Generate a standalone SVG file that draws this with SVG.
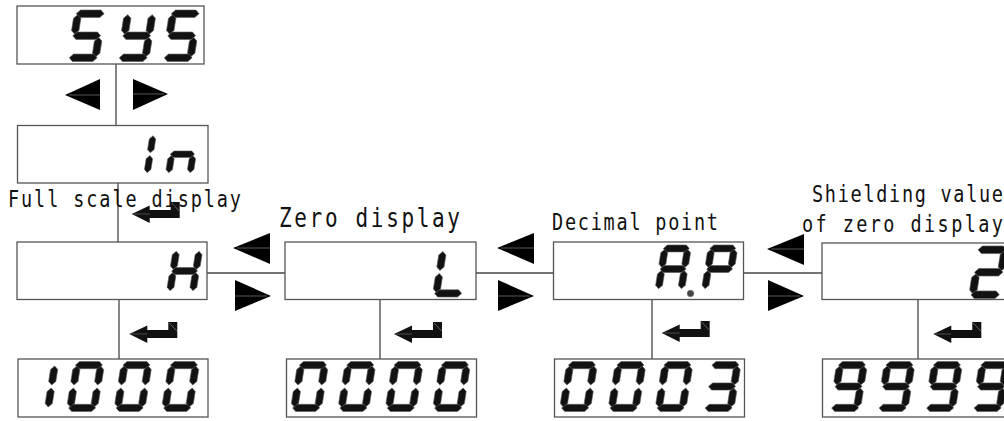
<svg xmlns="http://www.w3.org/2000/svg" width="1004" height="421" viewBox="0 0 1004 421">
<style>
.box{fill:#fff;stroke:#555;stroke-width:1.3}
.ln{stroke:#444;stroke-width:1.3;fill:none}
.dg{fill:#121212;stroke:#5c5c5c;stroke-width:0.6}
.tri{fill:#000}
.trl{stroke:#6e6e6e;stroke-width:0.8}
.ret{fill:#111}
.lbl{font-family:"DejaVu Sans Mono","Liberation Mono",monospace;font-size:18.5px;fill:#111}
</style>
<defs>
<polygon id="sa" points="2,3.6 5.6,0 25.4,0 29,3.6 25.4,7.2 5.6,7.2"/>
<polygon id="sb" points="27.4,4.5 31,8.1 31,19.9 27.4,23.5 23.8,19.9 23.8,8.1"/>
<polygon id="sc" points="27.4,26.5 31,30.1 31,41.9 27.4,45.5 23.8,41.9 23.8,30.1"/>
<polygon id="sd" points="2,46.4 5.6,42.8 25.4,42.8 29,46.4 25.4,50 5.6,50"/>
<polygon id="se" points="3.6,26.5 7.2,30.1 7.2,41.9 3.6,45.5 0,41.9 0,30.1"/>
<polygon id="sf" points="3.6,4.5 7.2,8.1 7.2,19.9 3.6,23.5 0,19.9 0,8.1"/>
<polygon id="sg" points="2,25 5.6,21.4 25.4,21.4 29,25 25.4,28.6 5.6,28.6"/>
<g id="d0"><use href="#sa"/><use href="#sb"/><use href="#sc"/><use href="#sd"/><use href="#se"/><use href="#sf"/></g>
<g id="d1"><use href="#sb"/><use href="#sc"/></g>
<g id="d2"><use href="#sa"/><use href="#sb"/><use href="#sg"/><use href="#se"/><use href="#sd"/></g>
<g id="d3"><use href="#sa"/><use href="#sb"/><use href="#sg"/><use href="#sc"/><use href="#sd"/></g>
<g id="d9"><use href="#sa"/><use href="#sb"/><use href="#sc"/><use href="#sd"/><use href="#sf"/><use href="#sg"/></g>
<g id="dS"><use href="#sa"/><use href="#sf"/><use href="#sg"/><use href="#sc"/><use href="#sd"/></g>
<g id="dY"><use href="#sb"/><use href="#sc"/><use href="#sd"/><use href="#sf"/><use href="#sg"/></g>
<g id="dn"><use href="#sc"/><use href="#se"/><use href="#sg"/></g>
<g id="dH"><use href="#sb"/><use href="#sc"/><use href="#se"/><use href="#sf"/><use href="#sg"/></g>
<g id="dL"><use href="#sd"/><use href="#se"/><use href="#sf"/></g>
<g id="dA"><use href="#sa"/><use href="#sb"/><use href="#sc"/><use href="#se"/><use href="#sf"/><use href="#sg"/></g>
<g id="dP"><use href="#sa"/><use href="#sb"/><use href="#se"/><use href="#sf"/><use href="#sg"/></g>
<g id="ret"><polygon class="ret" points="0,12 18,3.5 18,8 39,8 39,0 48,0 48,16 18,16 18,21"/><line x1="40" y1="1" x2="47.5" y2="9" stroke="#888" stroke-width="0.7"/><line x1="2" y1="12" x2="18" y2="12" stroke="#777" stroke-width="0.6"/></g>
<g id="tl"><polygon class="tri" points="0,15 37,0 37,31"/><line class="trl" x1="4" y1="15" x2="37" y2="15"/></g>
<g id="tr"><polygon class="tri" points="0,0 0,31 36,16"/><line class="trl" x1="0" y1="16" x2="32" y2="16"/></g>
</defs>

<g id="connectors">
<line class="ln" x1="116" y1="64" x2="116" y2="125.5"/>
<line class="ln" x1="118" y1="183" x2="118" y2="242"/>
<line class="ln" x1="119" y1="299.5" x2="119" y2="359"/>
<line class="ln" x1="380" y1="299.5" x2="380" y2="359"/>
<line class="ln" x1="652" y1="299.5" x2="652" y2="359"/>
<line class="ln" x1="918" y1="299.5" x2="918" y2="359"/>
<line class="ln" x1="207" y1="273" x2="285" y2="273"/>
<line class="ln" x1="476" y1="273" x2="553.5" y2="273"/>
<line class="ln" x1="743.5" y1="273" x2="822" y2="273"/>
<polygon class="tri" points="65,95 100,79 100,110"/>
<line class="trl" x1="69" y1="95" x2="100" y2="95"/>
<polygon class="tri" points="133,79 133,110 168,94"/>
<line class="trl" x1="133" y1="94" x2="164" y2="94"/>
<use href="#tl" transform="translate(233,233)"/>
<use href="#tr" transform="translate(235,280)"/>
<use href="#tl" transform="translate(497,233)"/>
<use href="#tr" transform="translate(498,280)"/>
<use href="#tl" transform="translate(767,234)"/>
<use href="#tr" transform="translate(768,280)"/>
<use href="#ret" transform="translate(131.7,202)"/>
<use href="#ret" transform="translate(129.3,322)"/>
<use href="#ret" transform="translate(394,322)"/>
<use href="#ret" transform="translate(661.7,321)"/>
<use href="#ret" transform="translate(933.3,322)"/>
</g>

<g id="node-sys">
<rect class="box" x="17" y="6" width="187" height="58"/>
<g class="dg">
<use href="#dS" transform="translate(74.8,10) scale(1.03) skewX(-9)"/>
<use href="#dY" transform="translate(124.8,10) scale(1.03) skewX(-9)"/>
<use href="#dS" transform="translate(169.8,10) scale(1.03) skewX(-9)"/>
</g>
</g>

<g id="node-in">
<rect class="box" x="17.5" y="125.5" width="190.5" height="57.5"/>
<g class="dg">
<use href="#d1" transform="translate(129,131.7) scale(0.9) skewX(-9)"/>
<use href="#dn" transform="translate(172,131.7) scale(0.9) skewX(-9)"/>
</g>
</g>

<g id="node-h">
<text class="lbl" transform="translate(8,207) scale(1,1.25)" textLength="233" lengthAdjust="spacing">Full scale display</text>
<rect class="box" x="17" y="242" width="190" height="57.5"/>
<g class="dg">
<use href="#dH" transform="translate(173.5,247) scale(0.96) skewX(-9)"/>
</g>
</g>

<g id="node-l">
<text class="lbl" transform="translate(279,227) scale(1,1.25)" style="font-size:21px" textLength="181" lengthAdjust="spacing">Zero display</text>
<rect class="box" x="285" y="242" width="191" height="57.5"/>
<g class="dg">
<use href="#dL" transform="translate(440,247) skewX(-9)"/>
</g>
</g>

<g id="node-ap">
<text class="lbl" transform="translate(552,230) scale(1,1.25)" textLength="166" lengthAdjust="spacing">Decimal point</text>
<rect class="box" x="553.5" y="242" width="190" height="57.5"/>
<g class="dg">
<use href="#dA" transform="translate(662,245) scale(0.96) skewX(-9)"/>
<use href="#dP" transform="translate(708.5,245) scale(0.96) skewX(-9)"/>
<circle cx="690.5" cy="293.5" r="3.3" fill="#444" stroke="#777"/>
</g>
</g>

<g id="node-shield">
<text class="lbl" transform="translate(812,202) scale(1,1.25)" textLength="191" lengthAdjust="spacing">Shielding value</text>
<text class="lbl" transform="translate(802,232) scale(1,1.25)" textLength="201" lengthAdjust="spacing">of zero display</text>
<rect class="box" x="822" y="243" width="200" height="56.5"/>
<g class="dg">
<use href="#d2" transform="translate(976.6,246) scale(1.05) skewX(-9)"/>
</g>
</g>

<g id="node-1000">
<rect class="box" x="18" y="359" width="190" height="58"/>
<g class="dg">
<use href="#d1" transform="translate(28,361.5) skewX(-9)"/>
<use href="#d0" transform="translate(74,361.5) skewX(-9)"/>
<use href="#d0" transform="translate(121.5,361.5) skewX(-9)"/>
<use href="#d0" transform="translate(169,361.5) skewX(-9)"/>
</g>
</g>

<g id="node-0000">
<rect class="box" x="286.5" y="359" width="190" height="58"/>
<g class="dg">
<use href="#d0" transform="translate(298,361.5) skewX(-9)"/>
<use href="#d0" transform="translate(345.3,361.5) skewX(-9)"/>
<use href="#d0" transform="translate(392.6,361.5) skewX(-9)"/>
<use href="#d0" transform="translate(440,361.5) skewX(-9)"/>
</g>
</g>

<g id="node-0003">
<rect class="box" x="554.5" y="359" width="190" height="58"/>
<g class="dg">
<use href="#d0" transform="translate(567,361.5) skewX(-9)"/>
<use href="#d0" transform="translate(615.5,361.5) skewX(-9)"/>
<use href="#d0" transform="translate(662.5,361.5) skewX(-9)"/>
<use href="#d3" transform="translate(710.5,361.5) skewX(-9)"/>
</g>
</g>

<g id="node-9999">
<rect class="box" x="822.5" y="359" width="200" height="58"/>
<g class="dg">
<use href="#d9" transform="translate(837,361.5) skewX(-9)"/>
<use href="#d9" transform="translate(884.5,361.5) skewX(-9)"/>
<use href="#d9" transform="translate(932,361.5) skewX(-9)"/>
<use href="#d9" transform="translate(979.5,361.5) skewX(-9)"/>
</g>
</g>
</svg>
